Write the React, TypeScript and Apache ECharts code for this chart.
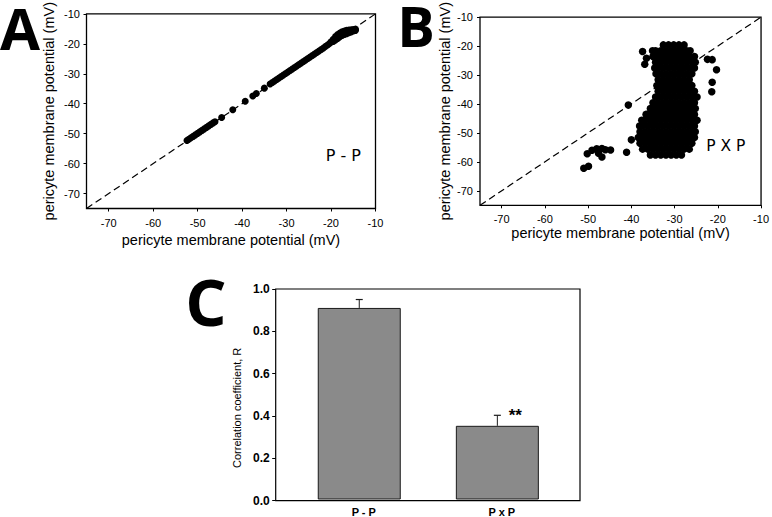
import React, { useEffect, useRef } from "react";
import * as echarts from "echarts";

// ---------- data ----------
const axisTitle = "pericyte membrane potential (mV)";
const mvRange = [-75, -10];
const mvTicks = [-70, -60, -50, -40, -30, -20, -10];
const identityLine: [number, number][] = [
  [-75, -75],
  [-10, -10],
];

// Panel A: P - P
const ppPoints: [number, number][] = [
  [-52.4, -52.3], [-52.0, -51.9], [-51.5, -51.4], [-51.0, -50.9], [-50.5, -50.4],
  [-50.0, -49.9], [-49.5, -49.4], [-49.0, -48.9], [-48.5, -48.4], [-48.0, -47.9],
  [-47.5, -47.4], [-47.0, -46.9], [-46.5, -46.4], [-46.1, -46.0],
  [-44.6, -44.6], [-42.1, -42.0], [-39.3, -39.2], [-37.6, -37.4], [-36.8, -36.6], [-35.0, -34.8],
  [-33.7, -33.4], [-33.2, -32.9], [-32.7, -32.4], [-32.2, -31.9], [-31.7, -31.4],
  [-31.2, -30.9], [-30.7, -30.4], [-30.2, -29.9], [-29.7, -29.4], [-29.2, -28.9],
  [-28.7, -28.4], [-28.2, -27.9], [-27.7, -27.4], [-27.2, -26.9], [-26.7, -26.4],
  [-26.2, -25.9], [-25.7, -25.4], [-25.2, -24.9], [-24.7, -24.4], [-24.2, -23.9],
  [-23.7, -23.4], [-23.2, -22.9], [-22.7, -22.4], [-22.2, -21.9], [-21.7, -21.4],
  [-21.2, -20.8], [-20.7, -20.3], [-20.2, -19.7],
  [-20.0, -19.3], [-19.5, -18.5], [-19.0, -17.6], [-18.5, -16.9], [-18.0, -16.4],
  [-17.5, -16.0], [-17.0, -15.7], [-16.5, -15.5], [-16.0, -15.4], [-15.5, -15.3],
  [-15.0, -15.2], [-14.5, -15.1],
  [-19.5, -19.2], [-19.0, -18.7], [-18.5, -18.2], [-18.0, -17.6], [-17.5, -17.2],
  [-17.0, -16.9], [-16.5, -16.6], [-16.0, -16.3], [-15.5, -16.0], [-15.0, -15.7], [-14.5, -15.5],
];

// Panel B: P X P (dense cloud read row by row: [y, x values])
const pxpCloudRows: [number, number[]][] = [
  [-19.6, [-32.6, -31.4, -30.2, -29.0, -27.8]],
  [-21.6, [-35.1, -34.4, -33.2, -32.0, -30.8, -29.6, -28.4, -27.2, -26.4]],
  [-23.6, [-35.0, -33.8, -32.6, -31.4, -30.2, -29.0, -27.8, -26.6, -25.4]],
  [-25.6, [-34.4, -33.2, -32.0, -30.8, -29.6, -28.4, -27.2, -26.0, -25.2]],
  [-27.6, [-34.6, -33.8, -32.6, -31.4, -30.2, -29.0, -27.8, -26.6, -25.4]],
  [-29.6, [-34.3, -33.2, -32.0, -30.8, -29.6, -28.4, -27.2, -26.0]],
  [-31.6, [-33.8, -32.6, -31.4, -30.2, -29.0, -27.8, -26.6]],
  [-33.6, [-34.1, -33.2, -32.0, -30.8, -29.6, -28.4, -27.2, -26.0]],
  [-35.6, [-33.8, -32.6, -31.4, -30.2, -29.0, -27.8, -26.6, -25.4]],
  [-37.6, [-34.4, -33.2, -32.0, -30.8, -29.6, -28.4, -27.2, -26.0, -24.8]],
  [-39.6, [-35.0, -33.8, -32.6, -31.4, -30.2, -29.0, -27.8, -26.6, -25.4]],
  [-41.6, [-35.6, -34.4, -33.2, -32.0, -30.8, -29.6, -28.4, -27.2, -26.0, -25.2]],
  [-43.6, [-36.6, -36.2, -35.0, -33.8, -32.6, -31.4, -30.2, -29.0, -27.8, -26.6, -25.4]],
  [-45.6, [-37.6, -36.8, -35.6, -34.4, -33.2, -32.0, -30.8, -29.6, -28.4, -27.2, -26.0, -24.8]],
  [-47.6, [-38.1, -37.4, -36.2, -35.0, -33.8, -32.6, -31.4, -30.2, -29.0, -27.8, -26.6, -25.4]],
  [-49.6, [-38.0, -36.8, -35.6, -34.4, -33.2, -32.0, -30.8, -29.6, -28.4, -27.2, -26.0, -25.2]],
  [-51.6, [-38.4, -37.4, -36.2, -35.0, -33.8, -32.6, -31.4, -30.2, -29.0, -27.8, -26.6, -25.4]],
  [-53.6, [-38.0, -36.8, -35.6, -34.4, -33.2, -32.0, -30.8, -29.6, -28.4, -27.2, -26.0]],
  [-55.6, [-37.4, -36.2, -35.0, -33.8, -32.6, -31.4, -30.2, -29.0, -27.8, -26.6]],
  [-57.6, [-35.6, -34.4, -33.2, -32.0, -30.8, -29.6, -28.4]],
];
const pxpOutliers: [number, number][] = [
  [-37.4, -21.9], [-36.5, -24.2], [-36.9, -26.3],
  [-22.4, -24.6], [-21.3, -24.7], [-20.3, -28.2], [-21.3, -32.5], [-21.4, -35.8],
  [-40.7, -40.4], [-40.0, -52.4], [-41.1, -56.7],
  [-51.0, -62.2], [-49.9, -61.5],
  [-50.2, -57.2], [-49.1, -56.0], [-48.0, -55.5], [-46.8, -55.4], [-46.0, -55.8],
  [-47.6, -57.0], [-46.8, -58.3], [-44.8, -55.9],
];

// Panel C
const categories = ["P - P", "P x P"];
const corrMeans = [0.91, 0.35];
const corrErrors = [0.04, 0.05];
const sigMarks = ["", "**"];

const AX_FONT = "Liberation Sans, Arial, sans-serif";

export default function App() {
  const ref = useRef<HTMLDivElement>(null);

  useEffect(() => {
    if (!ref.current) return;
    const chart = echarts.init(ref.current, undefined, { renderer: "svg" });

    const pxpPoints: [number, number][] = [
      ...pxpCloudRows.flatMap(([y, xs]) => xs.map((x) => [x, y] as [number, number])),
      ...pxpOutliers,
    ];

    const mvX = (gridIndex: number, nameGap: number) => ({
      gridIndex,
      type: "value",
      min: mvRange[0],
      max: mvRange[1],
      splitNumber: 6,
      name: axisTitle,
      nameLocation: "middle",
      nameGap,
      nameTextStyle: { fontSize: 14.5, color: "#000", fontFamily: AX_FONT },
      axisLine: { show: false },
      axisTick: { show: true, length: 3, lineStyle: { color: "#000" }, customValues: mvTicks },
      axisLabel: { fontSize: 11, color: "#000", margin: 8.5, customValues: mvTicks, fontFamily: AX_FONT },
      splitLine: { show: false },
    });
    const mvY = (gridIndex: number, nameGap: number, margin: number) => ({
      gridIndex,
      type: "value",
      min: mvRange[0],
      max: mvRange[1],
      splitNumber: 6,
      name: axisTitle,
      nameLocation: "middle",
      nameGap,
      nameTextStyle: { fontSize: 14.5, color: "#000", fontFamily: AX_FONT },
      axisLine: { show: false },
      axisTick: { show: true, length: 3, lineStyle: { color: "#000" }, customValues: mvTicks },
      axisLabel: { fontSize: 11, color: "#000", margin, customValues: mvTicks, fontFamily: AX_FONT },
      splitLine: { show: false },
    });

    const option: any = {
      animation: false,
      textStyle: { fontFamily: AX_FONT },
      grid: [
        { left: 86.5, top: 6.8, width: 289, height: 201.7, show: true, borderColor: "#000", borderWidth: 1.3 },
        { left: 480, top: 6.5, width: 284.3, height: 198.8, show: true, borderColor: "#000", borderWidth: 1.3 },
        { left: 275.7, top: 289, width: 304.3, height: 211.7, show: true, borderColor: "#000", borderWidth: 1.2 },
        { left: 290.2, top: 289, width: 276.2, height: 211.7 },
      ],
      xAxis: [
        mvX(0, 24),
        mvX(1, 17.5),
        { gridIndex: 2, type: "value", show: false, min: 0, max: 1 },
        {
          gridIndex: 3,
          type: "category",
          data: categories,
          axisLine: { show: false },
          axisTick: { show: false },
          axisLabel: { fontSize: 11, fontWeight: "bold", color: "#000", margin: 6.5, padding: [0, 0, 0, 9], fontFamily: AX_FONT },
        },
      ],
      yAxis: [
        mvY(0, 30, 6.5),
        mvY(1, 28, 7),
        {
          gridIndex: 2,
          type: "value",
          min: 0,
          max: 1,
          interval: 0.2,
          name: "Correlation coefficient, R",
          nameLocation: "middle",
          nameGap: 33,
          nameTextStyle: { fontSize: 11, color: "#000", padding: [0, 26, 0, 0], fontFamily: AX_FONT },
          axisLine: { show: false },
          axisTick: { show: true, length: 3.5, lineStyle: { color: "#000" } },
          axisLabel: {
            fontSize: 12,
            fontWeight: "bold",
            color: "#000",
            margin: 6,
            fontFamily: AX_FONT,
            formatter: (v: number) => v.toFixed(1),
          },
          splitLine: { show: false },
        },
        { gridIndex: 3, type: "value", min: 0, max: 1, show: false },
      ],
      series: [
        {
          type: "line",
          xAxisIndex: 0,
          yAxisIndex: 0,
          data: identityLine,
          symbol: "none",
          lineStyle: { color: "#000", width: 1.2, type: [7, 4] },
          silent: true,
        },
        {
          type: "scatter",
          xAxisIndex: 0,
          yAxisIndex: 0,
          data: ppPoints,
          symbol: "circle",
          symbolSize: 7,
          itemStyle: { color: "#000", opacity: 1 },
        },
        {
          type: "line",
          xAxisIndex: 1,
          yAxisIndex: 1,
          data: identityLine,
          symbol: "none",
          lineStyle: { color: "#000", width: 1.2, type: [7, 4] },
          silent: true,
        },
        {
          type: "scatter",
          xAxisIndex: 1,
          yAxisIndex: 1,
          data: pxpPoints,
          symbol: "circle",
          symbolSize: 7.5,
          itemStyle: { color: "#000", opacity: 1 },
        },
        {
          type: "bar",
          xAxisIndex: 3,
          yAxisIndex: 3,
          data: corrMeans,
          barWidth: 83,
          itemStyle: { color: "#8a8a8a", borderColor: "#1a1a1a", borderWidth: 1 },
        },
        {
          type: "custom",
          xAxisIndex: 3,
          yAxisIndex: 3,
          z: 5,
          data: categories.map((_, i) => [i, corrMeans[i], corrMeans[i] + corrErrors[i]]),
          renderItem: (params: any, api: any) => {
            const idx = params.dataIndex;
            const base = api.coord([api.value(0), api.value(1)]);
            const top = api.coord([api.value(0), api.value(2)]);
            const children: any[] = [
              {
                type: "line",
                shape: { x1: base[0], y1: base[1], x2: top[0], y2: top[1] },
                style: { stroke: "#1a1a1a", lineWidth: 1 },
              },
              {
                type: "line",
                shape: { x1: top[0] - 3.5, y1: top[1], x2: top[0] + 3.5, y2: top[1] },
                style: { stroke: "#1a1a1a", lineWidth: 1.2 },
              },
            ];
            if (sigMarks[idx]) {
              children.push({
                type: "text",
                x: top[0] + 18,
                y: top[1],
                style: {
                  text: sigMarks[idx],
                  fontSize: 17,
                  fontWeight: "bold",
                  fontFamily: AX_FONT,
                  fill: "#000",
                  align: "center",
                  verticalAlign: "middle",
                },
              });
            }
            return { type: "group", children };
          },
        },
      ],
      graphic: [
        {
          type: "text",
          x: 20,
          y: 27,
          style: { text: "A", fontSize: 58, lineHeight: 42, fontWeight: "bold", fontFamily: "Open Sans", fill: "#000", align: "center", verticalAlign: "middle" },
        },
        {
          type: "text",
          x: 416,
          y: 25,
          style: { text: "B", fontSize: 56, lineHeight: 40, fontWeight: "bold", fontFamily: "Open Sans", fill: "#000", align: "center", verticalAlign: "middle" },
        },
        {
          type: "text",
          x: 206,
          y: 300.7,
          style: { text: "C", fontSize: 65, lineHeight: 48, fontWeight: "bold", fontFamily: "Open Sans", fill: "#000", align: "center", verticalAlign: "middle" },
        },
        {
          type: "text",
          x: 343.3,
          y: 155.3,
          style: { text: "P - P", fontSize: 16, fontFamily: "DejaVu Sans", fill: "#000", align: "center", verticalAlign: "middle" },
        },
        {
          type: "text",
          x: 725.8,
          y: 146,
          style: { text: "P X P", fontSize: 15.5, fontFamily: "DejaVu Sans", fill: "#000", align: "center", verticalAlign: "middle" },
        },
      ],
    };

    chart.setOption(option);
    return () => chart.dispose();
  }, []);

  return (
    <div
      ref={ref}
      style={{ position: "absolute", left: 0, top: 0, width: 772, height: 517, background: "#fff" }}
    />
  );
}
